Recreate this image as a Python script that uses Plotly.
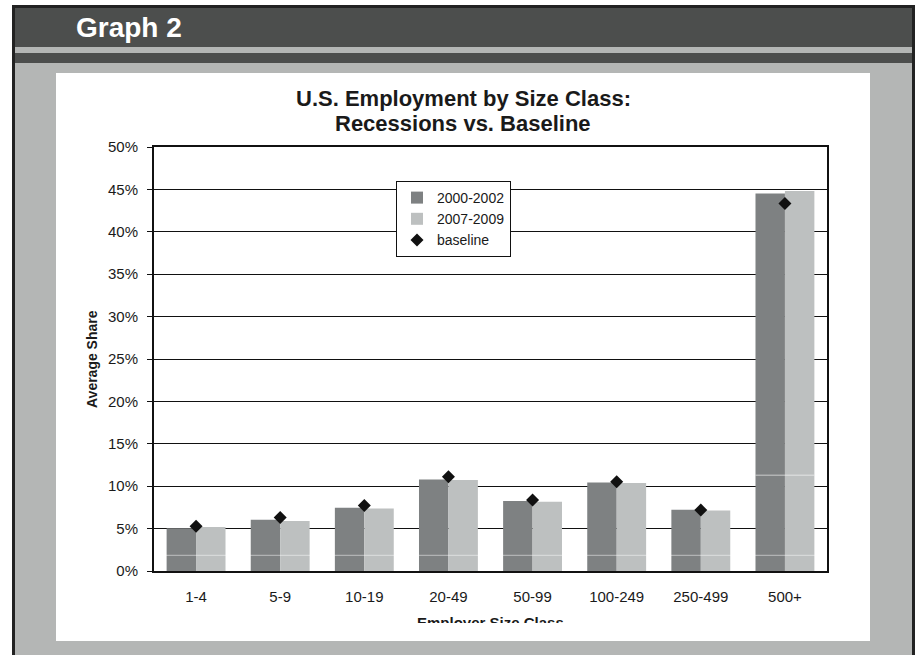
import plotly.graph_objects as go

# Employment share by employer size class
size_classes = ["1-4", "5-9", "10-19", "20-49", "50-99", "100-249", "250-499", "500+"]
share_2000_2002 = [0.0505, 0.0603, 0.0745, 0.1080, 0.0824, 0.1044, 0.0721, 0.4453]
share_2007_2009 = [0.0520, 0.0591, 0.0737, 0.1073, 0.0816, 0.1037, 0.0713, 0.4480]
share_baseline = [0.0528, 0.0630, 0.0772, 0.1112, 0.0836, 0.1053, 0.0718, 0.4335]
y_ticks = [0, 0.05, 0.10, 0.15, 0.20, 0.25, 0.30, 0.35, 0.40, 0.45, 0.50]
title_lines = ["U.S. Employment by Size Class:", "Recessions vs. Baseline"]

W, H = 916, 655
L, R, T, B = 154, 89, 147, 84
PW, PH = W - L - R, H - T - B

FONT = "Arial, Liberation Sans, sans-serif"
INK = "#1a1a1a"
DARK_BAR = "#7e8182"
LIGHT_BAR = "#bdc0c0"
HEADER = "#4c4e4d"
FRAME_GRAY = "#b4b6b5"


def px_x(px):
    return (px - L) / PW


def px_y(py):
    return (H - B - py) / PH


def rect(x0, y0, x1, y1, color, layer="below"):
    return dict(type="rect", xref="paper", yref="paper",
                x0=px_x(x0), x1=px_x(x1), y0=px_y(y1), y1=px_y(y0),
                fillcolor=color, line=dict(width=0), layer=layer)


fig = go.Figure()
fig.add_trace(go.Bar(x=size_classes, y=share_2000_2002, name="2000-2002",
                     marker=dict(color=DARK_BAR, line=dict(width=0))))
fig.add_trace(go.Bar(x=size_classes, y=share_2007_2009, name="2007-2009",
                     marker=dict(color=LIGHT_BAR, line=dict(width=0))))
fig.add_trace(go.Scatter(x=size_classes, y=share_baseline, name="baseline", mode="markers",
                         marker=dict(symbol="diamond", size=10, color="#111111")))

shapes = [
    # slide frame and header bands
    rect(12, 5, 915, 660, "#222222"),
    rect(15, 8, 912, 47, HEADER),
    rect(15, 47, 912, 53, FRAME_GRAY),
    rect(15, 53, 912, 63, HEADER),
    rect(15, 63, 912, 660, FRAME_GRAY),
    # chart panel
    rect(56, 73, 870, 641, "#ffffff"),
    # faint light streaks across the bars
    dict(type="line", xref="paper", yref="y", x0=0.004, x1=0.996, y0=0.0185, y1=0.0185,
         line=dict(color="rgba(255,255,255,0.5)", width=1), layer="above"),
    dict(type="line", xref="x", yref="y", x0=6.65, x1=7.35, y0=0.113, y1=0.113,
         line=dict(color="rgba(255,255,255,0.6)", width=1), layer="above"),
]

annotations = [
    dict(text="Graph 2", xref="paper", yref="paper", x=px_x(74), y=px_y(28),
         xanchor="left", yanchor="middle", showarrow=False,
         font=dict(family=FONT, size=28, color="#ffffff", weight="bold")),
    dict(text="Average Share", xref="paper", yref="paper", x=px_x(92), y=0.5,
         xanchor="center", yanchor="middle", textangle=-90, showarrow=False,
         font=dict(family=FONT, size=14, color=INK, weight="bold")),
    dict(text="Employer Size Class", xref="paper", yref="paper", x=px_x(490), y=px_y(612),
         xanchor="center", yanchor="top", valign="top", height=9, showarrow=False,
         font=dict(family=FONT, size=15, color=INK, weight="bold")),
]
# chart title, one annotation per line
for line_text, center_y in zip(title_lines, [98, 123]):
    annotations.append(dict(text=line_text, xref="paper", yref="paper",
                            x=px_x(463), y=px_y(center_y),
                            xanchor="center", yanchor="middle", showarrow=False,
                            font=dict(family=FONT, size=22, color=INK, weight="bold")))

fig.update_layout(
    width=W, height=H,
    margin=dict(l=L, r=R, t=T, b=B, pad=0),
    paper_bgcolor="#ffffff",
    plot_bgcolor="#ffffff",
    barmode="group",
    bargap=0.30,
    bargroupgap=0,
    font=dict(family=FONT, size=14, color=INK),
    shapes=shapes,
    annotations=annotations,
    showlegend=True,
    legend=dict(x=px_x(396), y=px_y(181), xanchor="left", yanchor="top",
                bgcolor="#ffffff", bordercolor="#111111", borderwidth=1,
                font=dict(family=FONT, size=14, color=INK),
                itemwidth=30, tracegroupgap=0),
)

fig.update_xaxes(
    showline=True, linecolor="#111111", linewidth=2, mirror=True,
    showgrid=False, ticks="", ticklabelstandoff=11,
    tickfont=dict(family=FONT, size=15, color=INK),
)
fig.update_yaxes(
    range=[0, 0.5], tickvals=y_ticks, tickformat=".0%",
    showline=True, linecolor="#111111", linewidth=2, mirror=True,
    showgrid=True, gridcolor="#111111", gridwidth=1.2,
    ticks="outside", ticklen=5, tickcolor="#111111", tickwidth=1,
    ticklabelstandoff=6, zeroline=False,
    tickfont=dict(family=FONT, size=15, color=INK),
)

fig.write_html("out.html")
